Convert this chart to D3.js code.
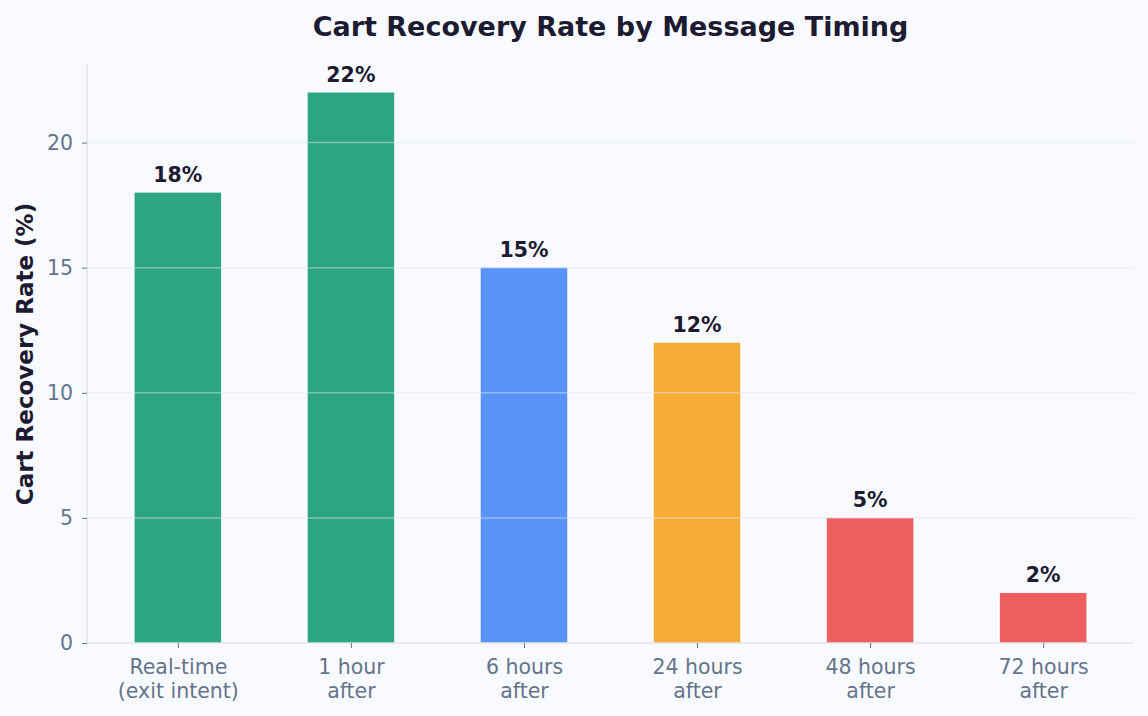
<!DOCTYPE html>
<html>
<head>
<meta charset="utf-8">
<script src="https://cdn.jsdelivr.net/npm/d3@7"></script>
<style>
  html, body { margin: 0; padding: 0; background: #f8faff; }
  svg { display: block; font-family: "DejaVu Sans", sans-serif; }
</style>
</head>
<body>
<svg id="chart" width="1148" height="716"></svg>
<script>
const categories = ['Real-time\n(exit intent)', '1 hour\nafter', '6 hours\nafter', '24 hours\nafter', '48 hours\nafter', '72 hours\nafter']
const rates = [18, 22, 15, 12, 5, 2]
const barColors = ['#2ca681', '#2ca681', '#5894f8', '#f5ac34', '#ef5f5f', '#ef5f5f']
const yTicks = [0, 5, 10, 15, 20]

const width = 1148
const height = 716
const margin = { top: 65, right: 14, bottom: 73, left: 87 }

const svg = d3.select('#chart')

const x = d3.scaleLinear()
  .domain([-0.525, categories.length - 1 + 0.525])
  .range([margin.left, width - margin.right])

const y = d3.scaleLinear()
  .domain([0, d3.max(rates) * 1.05])
  .range([height - margin.bottom, margin.top])

const barWidth = x(0.5) - x(0)

// bars
svg.append('g')
  .selectAll('rect')
  .data(rates)
  .join('rect')
  .attr('x', (d, i) => x(i) - barWidth / 2)
  .attr('y', d => y(d))
  .attr('width', barWidth)
  .attr('height', d => y(0) - y(d))
  .attr('fill', (d, i) => barColors[i])

// grid on top, faint
svg.append('g')
  .selectAll('line')
  .data(yTicks.filter(d => d > 0))
  .join('line')
  .attr('x1', margin.left)
  .attr('x2', width - margin.right)
  .attr('y1', d => y(d))
  .attr('y2', d => y(d))
  .attr('stroke', '#e2e8f0')
  .attr('stroke-opacity', 0.45)
  .attr('stroke-width', 1.5)

// spines
svg.append('line')
  .attr('x1', margin.left).attr('x2', margin.left)
  .attr('y1', margin.top).attr('y2', y(0))
  .attr('stroke', '#e2e4ea').attr('stroke-width', 1.5)
svg.append('line')
  .attr('x1', margin.left).attr('x2', width - margin.right)
  .attr('y1', y(0)).attr('y2', y(0))
  .attr('stroke', '#e2e4ea').attr('stroke-width', 1.5)

// y axis
const yAxis = svg.append('g')
  .attr('transform', `translate(${margin.left},0)`)
  .call(d3.axisLeft(y).tickValues(yTicks).tickSize(5).tickPadding(9))
yAxis.select('.domain').remove()
yAxis.selectAll('line').attr('stroke', '#64748b')
yAxis.selectAll('text')
  .attr('fill', '#64748b')
  .attr('font-size', 20.5)
  .attr('font-family', 'DejaVu Sans')

// x axis
const xAxis = svg.append('g')
  .attr('transform', `translate(0,${y(0)})`)
  .call(d3.axisBottom(x).tickValues(d3.range(categories.length)).tickSize(5).tickFormat(''))
xAxis.select('.domain').remove()
xAxis.selectAll('line').attr('stroke', '#64748b')

xAxis.selectAll('.tick')
  .append('text')
  .attr('fill', '#64748b')
  .attr('font-size', 20.5)
  .attr('font-family', 'DejaVu Sans')
  .attr('text-anchor', 'middle')
  .selectAll('tspan')
  .data((d, i) => categories[i].split('\n'))
  .join('tspan')
  .attr('x', 0)
  .attr('y', (d, j) => 31 + j * 24)
  .text(d => d)

// value labels
svg.append('g')
  .selectAll('text')
  .data(rates)
  .join('text')
  .attr('x', (d, i) => x(i))
  .attr('y', d => y(d) - 11)
  .attr('text-anchor', 'middle')
  .attr('font-size', 20.5)
  .attr('font-weight', 'bold')
  .attr('fill', '#1c1b31')
  .text(d => d + '%')

// y label
svg.append('text')
  .attr('transform', `translate(33,${(margin.top + y(0)) / 2}) rotate(-90)`)
  .attr('text-anchor', 'middle')
  .attr('font-size', 23)
  .attr('font-weight', 'bold')
  .attr('fill', '#1c1b31')
  .text('Cart Recovery Rate (%)')

// title
svg.append('text')
  .attr('x', (margin.left + width - margin.right) / 2)
  .attr('y', 36)
  .attr('text-anchor', 'middle')
  .attr('font-size', 27)
  .attr('font-weight', 'bold')
  .attr('fill', '#1c1b31')
  .text('Cart Recovery Rate by Message Timing')
</script>
</body>
</html>
